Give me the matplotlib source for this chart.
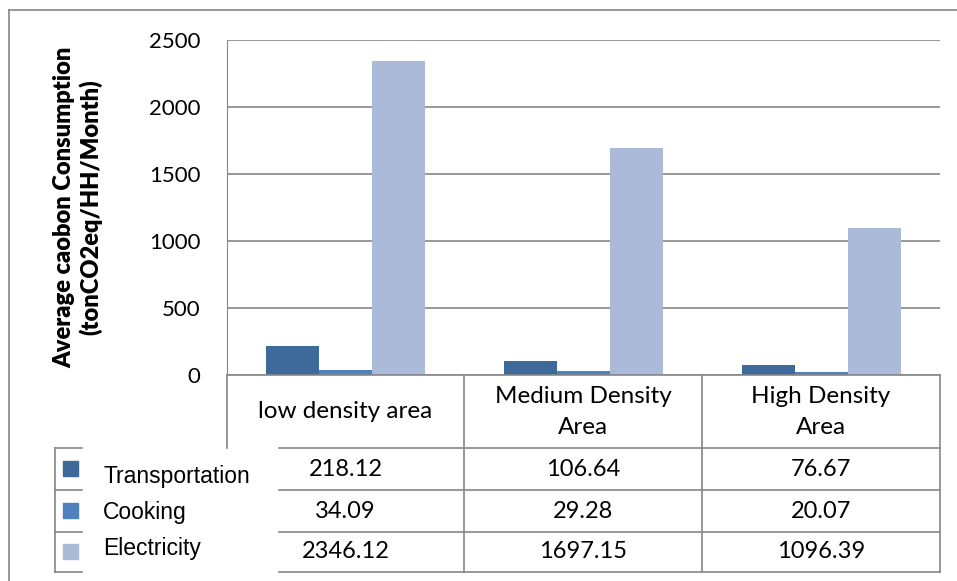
import numpy as np
import matplotlib
matplotlib.use("Agg")
import matplotlib.pyplot as plt
from matplotlib.patches import Rectangle
from matplotlib.lines import Line2D

# data
areas = ["low density area", "Medium Density\nArea", "High Density\nArea"]
series = ["Transportation", "Cooking", "Electricity"]
transportation = [218.12, 106.64, 76.67]
cooking = [34.09, 29.28, 20.07]
electricity = [2346.12, 1697.15, 1096.39]
yticks = [0, 500, 1000, 1500, 2000, 2500]

colors = ["#3e6a9b", "#4f81bd", "#aabad8"]
grid_col = "#868686"
W, H = 957, 581

plt.rcParams['font.family'] = ['Lato', 'DejaVu Sans']

fig = plt.figure(figsize=(W / 100, H / 100), dpi=100)


def fx(px):
    return px / W


def fy(py):
    return 1 - py / H


ax = fig.add_axes([fx(227), fy(375), fx(940) - fx(227), fy(40) - fy(375)])

x = np.arange(len(areas))
bw = 0.223
for i, (vals, c) in enumerate(zip([transportation, cooking, electricity], colors)):
    ax.bar(x + (i - 1) * bw, vals, bw, color=c, zorder=3)

ax.set_xlim(-0.5, len(areas) - 0.5)
ax.set_ylim(0, 2500)
ax.set_yticks(yticks)
ax.set_xticks([])
ax.tick_params(axis="y", length=0, pad=19, labelsize=16)
for s in ["top", "right", "bottom"]:
    ax.spines[s].set_visible(False)
ax.spines["left"].set_color(grid_col)
ax.yaxis.grid(True, color=grid_col, lw=1.2, zorder=0)
ax.set_axisbelow(True)

ax.set_ylabel("Average caobon Consumption\n(tonCO2eq/HH/Month)",
              fontsize=17, fontweight="heavy", labelpad=34, linespacing=1.15)

# outer chart border
fig.add_artist(Line2D([fx(9), 1], [fy(10), fy(10)], color=grid_col, lw=1.2))
fig.add_artist(Line2D([fx(9), fx(9)], [fy(10), 0], color=grid_col, lw=1.2))

# data table
col_edges = [227, 464, 702, 940]
row_edges = [375, 448, 490, 532, 572]
label_y = [477, 513, 549]
tab_left, key_l, key_r = 55, 82, 279
lkw = dict(color=grid_col, lw=1.2)

fig.add_artist(Line2D([fx(227), fx(940)], [fy(375), fy(375)], **lkw))
fig.add_artist(Line2D([fx(227), fx(227)], [fy(375), fy(448)], **lkw))
for ce in col_edges[1:]:
    fig.add_artist(Line2D([fx(ce), fx(ce)], [fy(375), fy(572)], **lkw))
fig.add_artist(Line2D([fx(tab_left), fx(tab_left)], [fy(448), fy(572)], **lkw))
for re in row_edges[1:]:
    fig.add_artist(Line2D([fx(tab_left), fx(key_l)], [fy(re), fy(re)], **lkw))
    fig.add_artist(Line2D([fx(key_r), fx(940)], [fy(re), fy(re)], **lkw))

# category labels
for i, name in enumerate(areas):
    cx = fx((col_edges[i] + col_edges[i + 1]) / 2)
    fig.text(cx, fy(412), name, ha="center", va="center", fontsize=17.5,
             linespacing=1.6)

# series rows
all_vals = [transportation, cooking, electricity]
for r, (name, vals, c) in enumerate(zip(series, all_vals, colors)):
    cy = (row_edges[r + 1] + row_edges[r + 2]) / 2
    fig.add_artist(Rectangle((fx(63), fy(cy + 7)), fx(15), 15 / H,
                             color=c, transform=fig.transFigure))
    fig.text(fx(103), fy(label_y[r]), name, ha="left", va="center",
             fontsize=16.5, family=["Liberation Sans Narrow", "Liberation Sans"])
    for i, v in enumerate(vals):
        cx = fx((col_edges[i] + col_edges[i + 1]) / 2)
        fig.text(cx, fy(cy), f"{v:.2f}", ha="center", va="center",
                 fontsize=17)

fig.savefig("out.png", dpi=100)
